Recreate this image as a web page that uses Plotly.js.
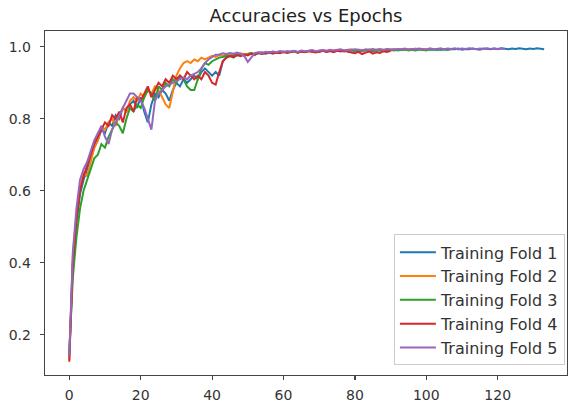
<!DOCTYPE html>
<html>
<head>
<meta charset="utf-8">
<script src="https://cdn.plot.ly/plotly-3.0.1.min.js"></script>
<style>html,body{margin:0;padding:0;background:#fff;}#chart{width:569px;height:404px;}</style>
</head>
<body>
<div id="chart"></div>
<script>
const seriesNames = ["Training Fold 1", "Training Fold 2", "Training Fold 3", "Training Fold 4", "Training Fold 5"];

const fold1 = [0.14,0.40,0.51,0.59,0.63,0.66,0.69,0.72,0.74,0.77,0.76,0.79,0.78,0.81,0.80,0.83,0.82,0.84,0.85,0.83,0.86,0.82,0.79,0.84,0.87,0.86,0.88,0.87,0.85,0.88,0.90,0.89,0.91,0.90,0.91,0.92,0.91,0.93,0.94,0.93,0.92,0.93,0.92,0.96,0.97,0.975,0.97,0.978,0.98,0.975,0.98,
0.982,0.978,0.983,0.985,0.981,0.984,0.986,0.983,0.985,0.987,
0.984,0.986,0.988,0.985,0.987,0.986,0.989,0.987,0.988,0.986,
0.989,0.988,0.99,0.987,0.989,0.991,0.988,0.99,0.989,0.991,
0.99,0.988,0.991,0.99,0.992,0.989,0.991,0.99,0.992,0.991,
0.993,0.99,0.992,0.991,0.993,0.992,0.99,0.993,0.992,0.994,
0.992,0.993,0.991,0.994,0.993,0.992,0.994,0.993,0.995,0.992,
0.994,0.993,0.995,0.994,0.992,0.995,0.994,0.993,0.995,0.994,
0.996,0.994,0.993,0.995,0.994,0.996,0.995,0.993,0.995,0.994,
0.996,0.994,0.993];

const fold2 = [0.13,0.42,0.53,0.61,0.65,0.64,0.68,0.72,0.74,0.78,0.77,0.79,0.80,0.78,0.81,0.83,0.82,0.85,0.86,0.85,0.87,0.86,0.88,0.87,0.89,0.88,0.86,0.84,0.83,0.88,0.92,0.94,0.955,0.96,0.955,0.965,0.96,0.97,0.965,0.97,0.975,
0.972,0.977,0.975,0.979,0.976,0.98,0.978,0.982,0.979,0.981,
0.983,0.98,0.984,0.982,0.985,0.983,0.986,0.984,0.987,0.985,
0.987,0.986,0.988,0.985,0.989,0.987,0.988,0.99,0.987,0.989,
0.991,0.988,0.99,0.989,0.992,0.99,0.988,0.991,0.993,0.99,
0.992,0.991,0.99,0.993,0.991,0.992,0.994,0.991,0.993,0.992,
0.994,0.992,0.993,0.991,0.994,0.993,0.995,0.992,0.994,0.993,
0.995,0.994];

const fold3 = [0.15,0.36,0.47,0.55,0.60,0.63,0.66,0.69,0.70,0.73,0.72,0.75,0.77,0.79,0.78,0.76,0.80,0.83,0.82,0.84,0.83,0.86,0.88,0.87,0.85,0.89,0.88,0.90,0.89,0.91,0.90,0.92,0.91,0.89,0.88,0.88,0.91,0.94,0.955,0.95,0.96,0.965,0.97,
0.972,0.975,0.973,0.977,
0.976,0.979,0.977,0.98,
0.982,0.979,0.983,0.981,0.984,0.982,0.985,0.983,0.986,0.984,
0.986,0.985,0.987,0.984,0.988,0.986,0.987,0.989,0.986,0.988,
0.99,0.987,0.989,0.988,0.99,0.989,0.987,0.99,0.991,0.988,
0.99,0.989,0.991,0.99,0.988,0.991,0.99,0.992,0.989,0.991,
0.99,0.992,0.991,0.993,0.99,0.992,0.991,0.993,0.992,0.99,
0.993,0.992,0.994,0.991,0.993,0.992,0.994];

const fold4 = [0.125,0.40,0.52,0.60,0.64,0.67,0.70,0.73,0.75,0.77,0.79,0.78,0.81,0.80,0.82,0.79,0.83,0.84,0.82,0.86,0.85,0.87,0.89,0.86,0.88,0.90,0.89,0.91,0.90,0.92,0.91,0.92,0.91,0.93,0.92,0.91,0.92,0.91,0.93,0.92,0.90,0.895,0.93,0.96,0.97,0.975,
0.972,0.977,0.974,0.979,
0.976,0.981,0.978,0.983,0.98,0.982,0.985,0.981,0.984,0.982,
0.986,0.983,0.985,0.988,0.984,0.987,0.985,0.988,0.986,0.984,
0.987,0.989,0.986,0.988,0.985,0.989,0.987,0.99,0.986,0.984,
0.982,0.986,0.98,0.984,0.987,0.981,0.985,0.983,0.988,0.986,
0.989];

const fold5 = [0.14,0.43,0.55,0.63,0.66,0.68,0.71,0.74,0.76,0.78,0.75,0.73,0.77,0.79,0.81,0.83,0.85,0.87,0.87,0.86,0.85,0.83,0.80,0.77,0.85,0.87,0.88,0.89,0.895,0.90,0.905,0.91,0.915,0.91,0.92,0.925,0.93,0.94,0.955,0.965,0.972,
0.978,0.979,0.982,0.98,0.983,0.981,0.984,0.98,0.975,0.958,
0.972,0.983,0.985,0.982,0.986,0.984,0.987,0.985,0.988,0.986,
0.988,0.987,0.989,0.986,0.99,0.988,0.989,0.991,0.988,0.99,
0.991,0.989,0.992,0.99,0.991,0.993,0.99,0.992,0.991,0.993,
0.992,0.99,0.993,0.991,0.994,0.992,0.993,0.991,0.994,0.993,
0.992,0.994,0.993,0.995,0.992,0.994,0.993,0.995,0.994,0.992,
0.995,0.993,0.994,0.996,0.993,0.995,0.994,0.996,0.993,0.995,
0.994,0.996,0.995,0.993,0.995,0.994,0.996,0.994,0.995,0.993,
0.995,0.994];

const seriesValues = [fold1, fold2, fold3, fold4, fold5];
const seriesColors = ["#1f77b4", "#ff7f0e", "#2ca02c", "#d62728", "#9467bd"];
const xTicks = [0, 20, 40, 60, 80, 100, 120];
const yTicks = [0.2, 0.4, 0.6, 0.8, 1.0];
const yTickText = ["0.2", "0.4", "0.6", "0.8", "1.0"];

const traces = seriesValues.map((vals, i) => ({
  x: vals.map((_, k) => k),
  y: vals,
  type: "scatter",
  mode: "lines",
  name: seriesNames[i],
  legendgroup: "g" + i,
  line: {color: seriesColors[i], width: 2},
  hoverinfo: "skip"
}));

const layout = {
  width: 569,
  height: 404,
  margin: {l: 45, r: 2, t: 31, b: 29, pad: 0},
  paper_bgcolor: "#ffffff",
  plot_bgcolor: "#ffffff",
  font: {family: "DejaVu Sans, sans-serif", size: 14, color: "#333333"},
  title: {text: "Accuracies vs Epochs", font: {size: 18, color: "#222222"}, x: 0.5, xanchor: "center", xref: "paper", y: 0.962, yanchor: "middle"},
  showlegend: true,
  legend: {
    x: 0.996, xanchor: "right", y: 0.028, yanchor: "bottom",
    bgcolor: "rgba(255,255,255,0.85)", bordercolor: "#cccccc", borderwidth: 1,
    font: {size: 16, color: "#333333"}, tracegroupgap: 0, traceorder: "grouped",
    itemwidth: 36
  },
  xaxis: {
    range: [-6.8, 139.4], tickvals: xTicks, ticktext: xTicks.map(String),
    showgrid: false, zeroline: false, showline: true, mirror: true,
    linecolor: "#444444", linewidth: 1.3, ticks: "outside", ticklen: 4, tickcolor: "#444444", tickwidth: 1.2,
    ticklabelstandoff: 3
  },
  yaxis: {
    range: [0.088, 1.044], tickvals: yTicks, ticktext: yTickText,
    showgrid: false, zeroline: false, showline: true, mirror: true,
    linecolor: "#444444", linewidth: 1.3, ticks: "outside", ticklen: 4, tickcolor: "#444444", tickwidth: 1.2,
    ticklabelstandoff: 6
  }
};

Plotly.newPlot("chart", traces, layout, {staticPlot: true, displayModeBar: false});
</script>
</body>
</html>
